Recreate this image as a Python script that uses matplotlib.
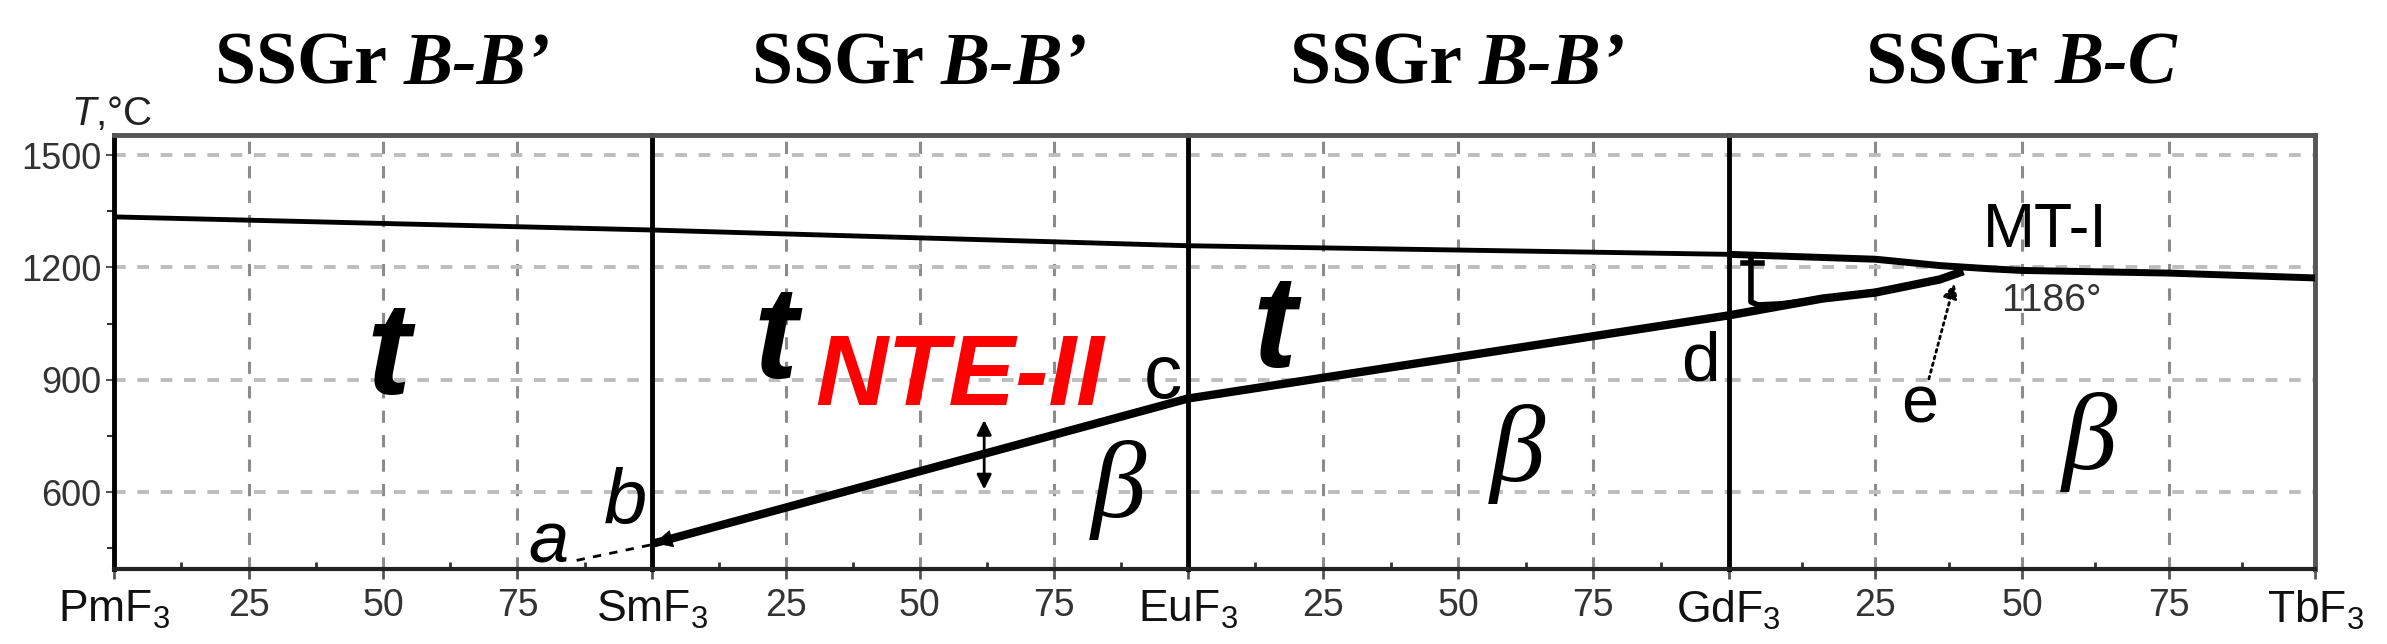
import matplotlib
matplotlib.use('Agg')
import matplotlib.pyplot as plt
from matplotlib.ticker import MultipleLocator

plt.rcParams['font.family'] = ['Liberation Sans', 'DejaVu Sans']
plt.rcParams['mathtext.fontset'] = 'custom'
plt.rcParams['mathtext.rm'] = 'Liberation Sans'
plt.rcParams['mathtext.it'] = 'Liberation Sans:italic'

# Data
compounds = ['PmF$_3$', 'SmF$_3$', 'EuF$_3$', 'GdF$_3$', 'TbF$_3$']
titles = ['B-B\u2019', 'B-B\u2019', 'B-B\u2019', 'B-C']
y_ticks = [600, 900, 1200, 1500]

# upper (liquidus-like) line, per panel: x in mol %, T in deg C
upper_x = [[0, 100], [0, 100], [0, 100], [0, 25, 36, 45, 50, 75, 100]]
upper_t = [[1335, 1300], [1300, 1258], [1258, 1235], [1235, 1222, 1205, 1196, 1192, 1185, 1172]]

# lower line (t / beta boundary)
lower_x = [None, [0, 100], [0, 100], [0, 16, 25, 36, 40]]
lower_t = [None, [462, 850], [850, 1072], [1072, 1117, 1133, 1168, 1190]]

# small "t"-shaped boundary near GdF3 in the last panel
hook_x = [3.8, 3.8, 5, 9, 16]
hook_t = [1228, 1108, 1100, 1103, 1117]

# dashed a-b piece in the first panel
ab_x = [86, 100]
ab_t = [418, 460]

fig = plt.figure(figsize=(23.87, 6.44), dpi=100)
gs = fig.add_gridspec(1, 4, left=0.0478, right=0.970, bottom=0.1165, top=0.790,
                      wspace=0, width_ratios=[539, 537, 542, 588])
axes = [fig.add_subplot(gs[0, i]) for i in range(4)]

for i, ax in enumerate(axes):
    ax.patch.set_visible(False)
    ax.set_xlim(0, 100)
    ax.set_ylim(395, 1553)
    ax.set_yticks(y_ticks)
    ax.yaxis.set_minor_locator(MultipleLocator(150))
    ax.xaxis.set_minor_locator(MultipleLocator(12.5))
    xt = [0, 25, 50, 75, 100] if i == 3 else [0, 25, 50, 75]
    ax.set_xticks(xt)
    labels = [compounds[i], '25', '50', '75'] + ([compounds[4]] if i == 3 else [])
    ax.set_xticklabels(labels)
    for lab, v in zip(ax.get_xticklabels(), xt):
        if v in (0, 100):
            lab.set_fontsize(32)
            lab.set_color('#111111')
        else:
            lab.set_fontsize(27)
            lab.set_color('#333333')
    ax.tick_params(axis='x', which='major', length=7, width=2, color='#555555', pad=7)
    ax.tick_params(axis='x', which='minor', length=5, width=2, direction='in', color='#333333')
    ax.tick_params(axis='y', which='major', length=6, width=1.5, color='#555555',
                   labelsize=26, labelcolor='#333333', pad=3)
    ax.tick_params(axis='y', which='minor', length=5, width=1.5, color='#333333')
    if i > 0:
        ax.tick_params(axis='y', which='both', left=False, labelleft=False)
    # grid
    for v in [25, 50, 75]:
        ax.axvline(v, color='#8c8c8c', lw=2.2, ls=(0, (4, 4)), zorder=1)
    for v in y_ticks:
        ax.axhline(v, color='#bdbdbd', lw=2.8, ls=(0, (3, 3)), zorder=1)
    # frame
    ax.spines['top'].set_color('#555555')
    ax.spines['top'].set_linewidth(3.5)
    ax.spines['bottom'].set_color('#222222')
    ax.spines['bottom'].set_linewidth(3)
    ax.spines['left'].set_color('black')
    ax.spines['left'].set_linewidth(3.5)
    if i < 3:
        ax.spines['right'].set_visible(False)
    else:
        ax.spines['right'].set_color('#555555')
        ax.spines['right'].set_linewidth(3.5)

    # phase boundary lines
    ax.plot(upper_x[i], upper_t[i], color='black', lw=5 if i == 3 else 3.5,
            solid_capstyle='butt', zorder=5)
    if lower_x[i] is not None:
        ax.plot(lower_x[i], lower_t[i], color='black', lw=6, solid_capstyle='butt', zorder=5)

# first panel annotations
ax = axes[0]
ax.plot(ab_x, ab_t, color='black', lw=2, ls=(0, (3, 3)), zorder=5)
ax.text(51, 863, 't', fontsize=95, fontweight='bold', style='italic', ha='center', va='baseline', zorder=6)
ax.text(80.7, 464, 'a', fontsize=52, style='italic', ha='center', va='center', zorder=6)
ax.text(95, 571, 'b', fontsize=56, style='italic', ha='center', va='center', zorder=6)

# second panel
ax = axes[1]
ax.annotate('', xy=(0, 462), xytext=(8, 492),
            arrowprops=dict(arrowstyle='-|>', color='black', lw=0.5, mutation_scale=30), zorder=6)
ax.text(23, 905, 't', fontsize=95, fontweight='bold', style='italic', ha='center', va='baseline', zorder=6)
ax.text(57.5, 902, 'NTE-II', fontsize=72, fontweight='bold', style='italic', color='#ff0000',
        ha='center', va='center', zorder=6)
ax.annotate('', xy=(62, 600), xytext=(62, 800),
            arrowprops=dict(arrowstyle='<|-|>', color='black', lw=2, mutation_scale=22), zorder=6)
ax.text(87, 605, '\u03b2', fontsize=80, family='Liberation Serif', style='italic', ha='center', va='center', zorder=6)
ax.text(95.4, 903, 'c', fontsize=55, ha='center', va='center', zorder=6)

# third panel
ax = axes[2]
ax.text(16, 935, 't', fontsize=95, fontweight='bold', style='italic', ha='center', va='baseline', zorder=6)
ax.text(61, 702, '\u03b2', fontsize=80, family='Liberation Serif', style='italic', ha='center', va='center', zorder=6)
ax.text(94.8, 945, 'd', fontsize=50, ha='center', va='center', zorder=6)

# fourth panel
ax = axes[3]
ax.plot(hook_x, hook_t, color='black', lw=4, zorder=5)
ax.plot([2.4, 5.6], [1212, 1212], color='black', lw=4, zorder=5)
ax.text(54, 1299, 'MT-I', fontsize=45, ha='center', va='center', zorder=6)
ax.text(55, 1110, '1186\u00b0', fontsize=28, color='#333333', ha='center', va='center', zorder=6)
ax.text(32.5, 831, 'e', fontsize=48, ha='center', va='center', zorder=6)
ax.annotate('', xy=(38.6, 1165), xytext=(34, 895),
            arrowprops=dict(arrowstyle='-|>', color='black', lw=2, ls=(0, (1, 1.5)), mutation_scale=22), zorder=6)
ax.text(61.5, 734, '\u03b2', fontsize=80, family='Liberation Serif', style='italic', ha='center', va='center', zorder=6)

# y label
fig.text(71 / 2387, 1 - 125 / 644, '$\\it{T}$,\u00b0C', fontsize=29, color='#222222',
         ha='left', va='baseline')

# titles: "SSGr " upright bold + italic bold part, centered over each panel
fig.canvas.draw()
renderer = fig.canvas.get_renderer()
for i, ax in enumerate(axes):
    pos = ax.get_position()
    cx = (pos.x0 + pos.x1) / 2
    t1 = fig.text(0, 1 - 84 / 644, 'SSGr ', fontsize=53, family='Liberation Serif',
                  fontweight='bold', ha='left', va='baseline')
    t2 = fig.text(0, 1 - 84 / 644, titles[i], fontsize=53, family='Liberation Serif',
                  fontweight='bold', style='italic', ha='left', va='baseline')
    w1 = t1.get_window_extent(renderer).width / fig.bbox.width
    w2 = t2.get_window_extent(renderer).width / fig.bbox.width
    x0 = cx - (w1 + w2) / 2
    t1.set_x(x0)
    t2.set_x(x0 + w1)

fig.savefig('out.png', dpi=100)
